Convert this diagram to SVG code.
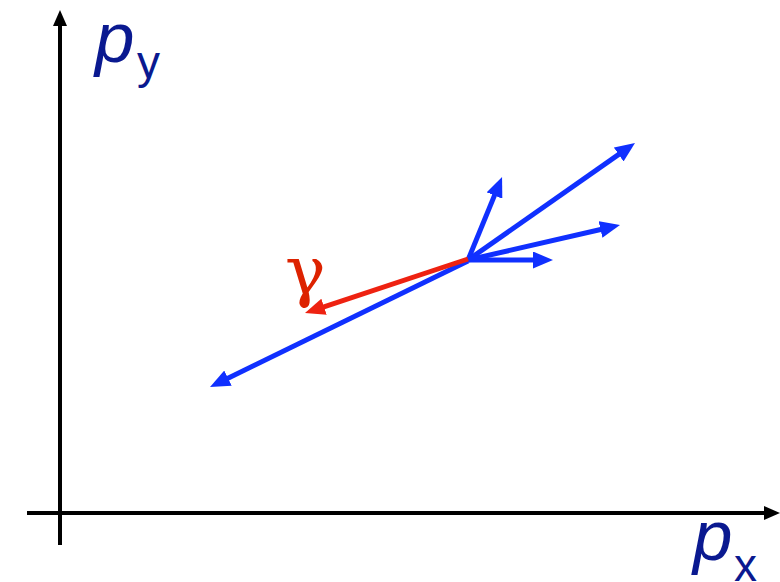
<svg xmlns="http://www.w3.org/2000/svg" width="780" height="582" viewBox="0 0 780 582">
<style>
.axis{stroke:#000;stroke-width:4;fill:none}
.blue{stroke:#1030FF;stroke-width:5;fill:none;marker-end:url(#ab)}
.red{stroke:#EE2211;stroke-width:5;fill:none;marker-end:url(#ar)}
.lab{font-family:"Liberation Sans",Arial,sans-serif;fill:#0A1990}
</style>
<defs>
<marker id="ak" markerUnits="userSpaceOnUse" markerWidth="16" markerHeight="14" refX="6" refY="7" orient="auto"><path d="M0,0 L16,7 L0,14 z" fill="#000"/></marker>
<marker id="ab" markerUnits="userSpaceOnUse" markerWidth="20" markerHeight="17" refX="8" refY="8.5" orient="auto"><path d="M0,0 L20,8.5 L0,17 z" fill="#1030FF"/></marker>
<marker id="ar" markerUnits="userSpaceOnUse" markerWidth="20" markerHeight="17" refX="8" refY="8.5" orient="auto"><path d="M0,0 L20,8.5 L0,17 z" fill="#EE2211"/></marker>
</defs>
<rect width="780" height="582" fill="#fff"/>
<g id="connectors">
<line class="axis" x1="60" y1="545" x2="60" y2="20" marker-end="url(#ak)"/>
<line class="axis" x1="27" y1="513" x2="770" y2="513" marker-end="url(#ak)"/>
<line class="blue" x1="468" y1="261" x2="220.8" y2="381.7"/>
<line class="blue" x1="468" y1="260" x2="497.5" y2="188.1"/>
<line class="blue" x1="468" y1="260" x2="625.2" y2="149.9"/>
<line class="blue" x1="468" y1="260" x2="608.3" y2="227.7"/>
<line class="blue" x1="468" y1="260" x2="541" y2="260"/>
<line class="red" x1="468" y1="259" x2="316.4" y2="309.3"/>
</g>
<g id="label-py">
<text class="lab" x="95" y="62" font-size="71" font-style="italic">p</text>
<text class="lab" x="137" y="78" font-size="46">y</text>
</g>
<g id="label-px">
<text class="lab" x="693" y="560" font-size="71" font-style="italic">p</text>
<text class="lab" x="734" y="581" font-size="46">x</text>
</g>
<g id="label-gamma">
<text x="285" y="294" font-family="'DejaVu Serif',serif" font-size="68" fill="#DD2200">γ</text>
</g>
</svg>
